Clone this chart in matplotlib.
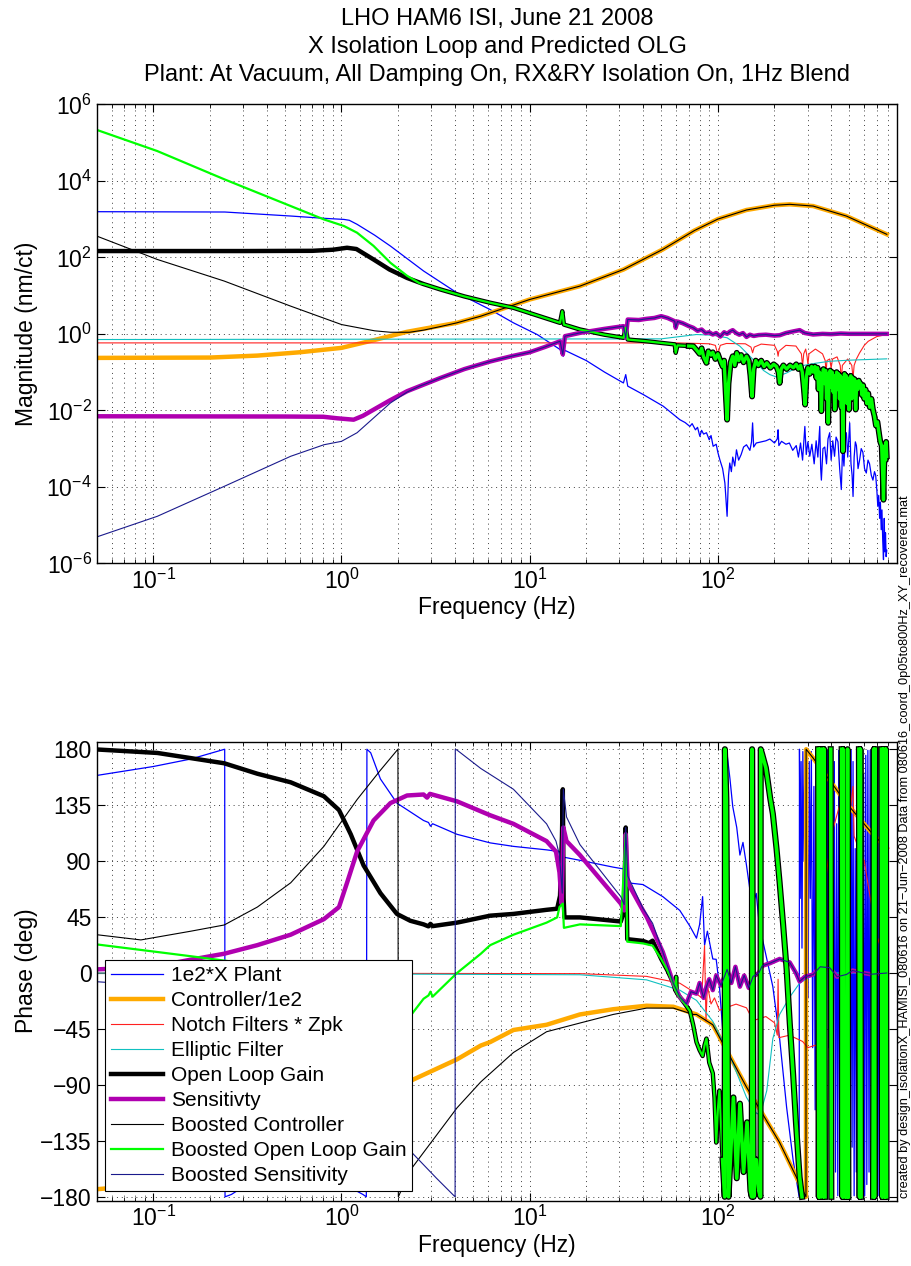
import numpy as np
import matplotlib
matplotlib.use('Agg')
import matplotlib.pyplot as plt
from matplotlib.ticker import LogLocator, FixedLocator, NullFormatter, NullLocator

plt.rcParams['font.family'] = ['Liberation Sans', 'DejaVu Sans']
plt.rcParams['mathtext.fontset'] = 'custom'
plt.rcParams['mathtext.rm'] = 'Liberation Sans'
plt.rcParams['mathtext.it'] = 'Liberation Sans:italic'
plt.rcParams['mathtext.bf'] = 'Liberation Sans:bold'

nan = np.nan

# ---------------- magnitude data (Hz, nm/ct) ----------------
plant_mag = [
    (0.05, 1560), (0.24, 1530), (0.54, 1200), (0.8, 1050), (1.03, 980), (1.1, 930), (1.21, 730),
    (1.5, 380), (1.82, 197), (2.73, 44), (4.11, 11.8), (6.17, 4.3), (8.2, 1.94), (11, 0.95),
    (14.5, 0.39), (14.9, 0.3), (15.1, 0.26), (15.4, 0.37), (20, 0.2), (25, 0.1), (31.5, 0.052),
    (32.4, 0.086), (33.2, 0.043), (40.2, 0.0258), (51.3, 0.0128), (62.8, 0.0057), (67, 0.0048),
    (71, 0.0038), (73, 0.0045), (76, 0.0031), (78, 0.0036), (80.2, 0.0021), (82, 0.003),
    (84, 0.0024), (87, 0.0026), (90, 0.0017), (92, 0.0022), (94.4, 0.00115), (98, 0.0013),
    (100, 0.0008), (102.5, 5.1e-4), (106, 3e-4), (109, 1.26e-4), (112, 1.7e-5), (114, 2e-4),
    (115.7, 4.2e-4), (118, 2.5e-4), (120, 6e-4), (123, 3.5e-4), (125.6, 9.3e-4), (129, 5e-4),
    (133, 7e-4), (137, 1.1e-3), (142, 1.26e-3), (148, 9e-4), (151, 1.5e-3), (153, 4.7e-3),
    (155, 1.1e-3), (160, 1.4e-3), (170, 1.5e-3), (180, 1.6e-3), (189, 1.78e-3), (200, 1.4e-3),
    (207, 1.8e-3), (209, 3.1e-3), (211, 1.2e-3), (218, 1.55e-3), (230, 1.3e-3), (240, 1.4e-3),
    (250, 9e-4), (261, 1.2e-3), (268, 6e-4), (275, 1.4e-3), (282, 5e-4), (290, 3.8e-3),
    (295, 7e-4), (301, 1.5e-3), (308, 6.3e-4), (316, 1.3e-3), (325, 4e-4), (333, 1.6e-3),
    (340, 6e-4), (348, 3.8e-3), (352, 3e-4), (355, 1.5e-4), (362, 1e-3), (370, 1.1e-3),
    (378, 4e-4), (385, 1.8e-3), (393, 2.6e-3), (400, 5e-4), (408, 1.6e-3), (417, 6.3e-4),
    (425, 2e-3), (435, 1.5e-3), (444, 3e-4), (453, 8.5e-5), (460, 1e-3), (468, 3.5e-4),
    (475, 1.8e-3), (482, 2.6e-3), (490, 6e-4), (502, 4.7e-3), (510, 4e-4), (517, 2e-4),
    (523, 5.6e-5), (530, 6e-4), (538, 1.5e-3), (545, 1.2e-3), (556, 3e-4), (567, 5.1e-4),
    (578, 1e-3), (590, 8e-4), (602, 3e-4), (615, 2.3e-4), (628, 5e-4), (640, 4e-4), (654, 2e-4),
    (667, 1.5e-4), (680, 2.5e-4), (690, 2e-4), (700, 8e-5), (708, 3.1e-5), (716, 6e-5),
    (724, 1.5e-5), (731, 4e-5), (738, 7.6e-6), (745, 2.5e-5), (752, 4e-6), (759, 1.25e-6),
    (766, 1.5e-5), (772, 2e-6), (778, 6.3e-6), (784, 1.5e-6), (790, 2.2e-6),
]

ctrl_mag = [
    (0.05, 0.235), (0.2, 0.24), (0.357, 0.27), (0.6, 0.33), (1.0, 0.43), (1.48, 0.68),
    (2.23, 1.13), (3.3, 1.6), (4.1, 1.94), (5.5, 2.9), (10, 7.9), (18.5, 17.7), (31.5, 48),
    (51, 161), (75, 500), (100, 1000), (142, 1730), (200, 2300), (241, 2430), (321, 2190),
    (482, 1200), (790, 400),
]

notch_mag = [
    (0.05, 0.58), (60, 0.58), (74, 0.565), (90, 0.55), (97, 0.5), (100, 0.29), (103, 0.5),
    (111, 0.56), (140, 0.55), (150, 0.45), (153, 0.32), (156, 0.45), (170, 0.54), (200, 0.5),
    (207, 0.35), (209, 0.26), (211, 0.35), (230, 0.5), (260, 0.48), (278, 0.3), (282, 0.143),
    (286, 0.3), (293, 0.4), (298, 0.25), (301, 0.157), (305, 0.3), (330, 0.4), (360, 0.3),
    (372, 0.2), (376, 0.095), (380, 0.2), (393, 0.22), (400, 0.128), (407, 0.22), (430, 0.25),
    (447, 0.15), (453, 0.064), (459, 0.15), (490, 0.22), (515, 0.15), (523, 0.07), (530, 0.15),
    (545, 0.22), (567, 0.32), (600, 0.5), (630, 0.64), (700, 0.85), (790, 0.96),
]

ellip_mag = [
    (0.05, 0.71), (50, 0.74), (77, 0.96), (94, 0.92), (112, 0.79), (131, 0.475), (154, 0.213),
    (175, 0.11), (189, 0.086), (204, 0.075), (232, 0.095), (272, 0.143), (330, 0.17),
    (393, 0.192), (500, 0.205), (790, 0.222),
]

olg_mag = [
    (0.05, 146), (0.3, 146), (0.7, 148), (0.9, 158), (1.07, 178), (1.2, 165), (1.48, 88),
    (1.8, 48), (2.23, 29), (2.73, 20), (3.35, 14.5), (4.5, 9.5), (6.17, 6.5), (8.2, 4.8),
    (11, 3), (14.5, 1.94), (14.9, 3.9), (15.2, 1.75), (18.5, 1.3), (25, 0.95), (31.5, 0.79),
    (32.4, 1.44), (33.2, 0.71), (41.8, 0.64), (50, 0.58), (59, 0.53), (59.7, 0.32), (61, 0.5),
    (70, 0.48), (74, 0.475), (77, 0.38), (80, 0.3), (82, 0.42), (84, 0.25), (87, 0.174),
    (89, 0.35), (92, 0.28), (94, 0.33), (97, 0.22), (100, 0.3), (103, 0.2), (106, 0.14),
    (108, 0.2), (110, 0.03), (112, 0.0057), (114, 0.05), (117, 0.18), (120, 0.26), (123, 0.15),
    (126, 0.32), (129, 0.2), (133, 0.28), (137, 0.18), (142, 0.26), (146, 0.2), (149, 0.08),
    (152, 0.023), (155, 0.12), (159, 0.2), (164, 0.15), (170, 0.2), (176, 0.14), (182, 0.174),
    (190, 0.13), (198, 0.16), (205, 0.14), (210, 0.1), (213, 0.052), (217, 0.12), (223, 0.15),
    (232, 0.12), (242, 0.15), (252, 0.13), (261, 0.16), (268, 0.12), (275, 0.15), (281, 0.1),
    (286, 0.04), (291, 0.0141), (296, 0.08), (301, 0.13), (308, 0.09), (315, 0.14), (321, 0.1),
    (328, 0.14), (334, 0.07), (339, 0.13), (343, 0.035), (347, 0.1), (351, 0.06), (355, 0.0095),
    (359, 0.07), (364, 0.12), (369, 0.05), (374, 0.11), (378, 0.02), (382, 0.09), (386, 0.0047),
    (390, 0.06), (395, 0.11), (400, 0.04), (405, 0.1), (410, 0.03), (414, 0.08), (418, 0.0105),
    (423, 0.06), (428, 0.1), (433, 0.035), (438, 0.09), (443, 0.02), (448, 0.08), (453, 0.012),
    (458, 0.07), (462, 0.00085), (466, 0.05), (471, 0.09), (476, 0.025), (481, 0.08),
    (486, 0.015), (491, 0.07), (497, 0.0104), (503, 0.06), (509, 0.08), (515, 0.02), (521, 0.07),
    (527, 0.03), (533, 0.065), (540, 0.0105), (547, 0.055), (554, 0.035), (561, 0.06),
    (568, 0.04), (575, 0.05), (583, 0.025), (592, 0.045), (600, 0.02), (610, 0.035),
    (620, 0.015), (630, 0.028), (642, 0.012), (655, 0.02), (667, 0.0105), (680, 0.007),
    (692, 0.004), (705, 0.005), (718, 0.0026), (730, 0.0015), (742, 0.0012), (752, 2e-4),
    (759, 4.6e-5), (765, 3e-4), (772, 1.2e-3), (778, 5e-4), (784, 1.5e-3), (790, 6.3e-4),
]

sens_mag = [
    (0.05, 0.007), (0.5, 0.0069), (0.8, 0.0068), (0.95, 0.0062), (1.16, 0.0057), (1.3, 0.0072),
    (1.48, 0.0104), (1.8, 0.018), (2.23, 0.0316), (2.73, 0.047), (3.35, 0.07), (4.5, 0.12),
    (6.17, 0.19), (8, 0.26), (10, 0.33), (12, 0.45), (14.5, 0.64), (15.0, 0.29), (15.4, 0.87),
    (18.5, 1.06), (25, 1.35), (31.5, 1.59), (32.4, 0.79), (33.2, 2.37), (38, 2.3), (41.8, 2.47),
    (46, 2.6), (50, 2.9), (54, 2.6), (59, 2.14), (59.7, 1.44), (61, 2.1), (65, 1.9), (70, 1.6),
    (74, 1.44), (78, 1.2), (82, 1.3), (86, 1.05), (90, 1.1), (94, 0.96), (98, 1.05), (103, 0.85),
    (108, 1.1), (112, 1.0), (116, 1.15), (120, 1.25), (125, 1.05), (130, 0.95), (136, 1.05),
    (142, 0.83), (148, 0.95), (155, 0.88), (165, 0.93), (180, 0.95), (200, 0.9), (213, 0.92),
    (230, 1.05), (250, 1.15), (272, 1.25), (290, 1.05), (321, 0.96), (360, 1.0), (400, 0.98),
    (450, 1.02), (500, 1.0), (600, 1.0), (790, 1.0),
]

bctrl_mag_low = [
    (0.05, 360), (0.105, 88), (0.238, 24), (0.537, 5.3), (1.0, 1.75), (1.5, 1.2), (1.82, 1.1),
    (2.3, 1.1), (2.73, 1.25), (3.35, 1.55),
]
bolg_mag_low = [
    (0.05, 2.15e5), (0.105, 6.0e4), (0.238, 1.1e4), (0.537, 2200), (0.806, 980), (1.03, 660),
    (1.21, 440), (1.48, 199), (1.82, 72), (2.23, 33), (2.6, 21),
]
bsens_mag_low = [
    (0.05, 4.9e-6), (0.105, 1.7e-5), (0.238, 1.03e-4), (0.537, 6.3e-4), (0.806, 1.26e-3),
    (1.0, 1.55e-3), (1.21, 2.6e-3), (1.48, 6.3e-3), (1.82, 0.0156), (2.23, 0.03), (2.6, 0.043),
]

# ---------------- phase data (Hz, deg) ----------------
plant_ph = [
    (0.05, 158.8), (0.1, 166), (0.158, 172), (0.2395, 179.9), (0.2405, -179.9), (0.26, -178),
    (0.3, -172), (0.5, -166), (0.8, -167), (1.1, -172), (1.3, -178), (1.355, -179.9),
    (1.365, 179.9), (1.43, 177), (1.61, 156),
    (1.97, 136.6), (2.73, 122.6), (2.9, 121), (2.97, 118), (3.05, 120), (4.11, 111.5),
    (6.17, 104.6), (8.2, 101.8), (12.3, 99), (14.4, 97.6), (15.0, 92), (15.3, 93), (18.5, 90.6),
    (27.8, 85.1), (31.5, 83.7), (32.4, 117), (33.2, 72.5), (40, 71.1), (51, 61.4), (62.8, 50.3),
    (71, 37.7), (77, 28), (80, 39), (83, 61.4), (85, 22.4), (88, 33.6), (94, 11.3), (98, 11),
    (102, -11), (107, -52.7), (109, -94.5), (110.8, -179.9), (111.2, 179.9), (116, 156),
    (120, 133.8), (126, 117), (131, 94.8), (136, 105), (142, 86.5), (148, 67), (154, 55.8),
    (160, 64), (166, 39), (182, 11.3), (196, -11), (213, -52.7), (232, -108), (251, -150),
    (270.5, -179.9), (271.5, 179.9), (274, 60), (277, 170), (280, 20), (283, 178), (287, 90),
    (290, 175), (294, 30), (298, 160), (302, -20), (306, 170), (310, 60), (314, 178),
    (319, -60), (324, 150), (329, -110), (334, 178), (339, -20), (344, 170), (349, -150),
    (354, 100), (358, -175), (362, 179), (367, -90), (372, 160), (377, -120), (382, 179),
    (388, -60), (394, 150), (400, -179), (404, 179), (410, -100), (416, 170), (422, -160),
    (428, 120), (434, -179), (439, 179), (444, -120), (449, 175), (454, -179), (459, 170),
    (464, -150), (469, 179), (474, -179), (479, 160), (484, -100), (489, 179), (494, -170),
    (499, 140), (505, -179), (511, 179), (517, -140), (523, 170), (530, -179), (537, 100),
    (544, -160), (551, 179), (558, -120), (565, 170), (572, -179), (579, 179), (587, -150),
    (595, 160), (603, -179), (611, 175), (619, -170), (627, 179), (636, -160), (645, 179),
    (654, -179), (663, 170), (672, -150), (681, 179), (690, -179), (700, 160), (710, -179),
    (720, 179), (730, -170), (740, 179), (750, -179), (760, 175), (770, -179), (780, 179),
    (790, 150),
]

ctrl_ph = [
    (0.05, -173.8), (0.1, -170), (0.3, -158), (0.6, -140), (1.0, -120), (1.6, -100),
    (2.37, -86.1), (4.11, -69.4), (5.5, -58.3), (6.17, -55.5), (8.2, -45.8), (12.3, -41.6),
    (18.5, -33.3), (27.8, -29.1), (41.8, -26.3), (58, -27.1), (77, -33.3), (94, -41.6),
    (142, -91.7), (213, -136.3), (294, -179.9), (294.5, 179.9), (321, 172.8), (482, 136.6),
    (667, 111.5), (790, 100.4),
]

notch_ph = [
    (0.05, 0), (18.5, -0.5), (41.8, -2.7), (62.8, -8.2), (77, -16.6), (82, -20), (85, 22),
    (86.5, -38.8), (88, -10), (92, -24.9), (96, -20), (102, -30), (110, -28), (125, -25),
    (142, -28), (150, -35), (153, -5), (156, -38), (180, -35), (200, -40), (207, -50),
    (209, -5), (211, -52), (240, -50), (282, -55), (301, -60), (330, -58), (376, -70),
    (378, 80), (400, 110), (453, 140), (482, 160), (500, 125), (523, 150), (530, 110),
    (560, 100), (600, 90), (630, 70), (700, 30), (790, 5),
]

ellip_ph = [
    (0.05, 0), (18.5, -1.4), (41.8, -5.5), (62.8, -13.8), (77, -22), (94, -38.8), (116, -66.7),
    (142, -100), (160, -112.6), (168, -114), (182, -94.5), (196, -52.7), (213, -33.3),
    (241, -19.3), (272, -8.2), (321, -1.4), (393, 0), (790, 0),
]

olg_ph = [
    (0.05, 179.7), (0.105, 176.9), (0.158, 172.8), (0.238, 168.6), (0.357, 160.2),
    (0.537, 153.3), (0.806, 142.1), (0.97, 131), (1.12, 111.5), (1.31, 86.5), (1.61, 64.2),
    (1.97, 47.5), (2.32, 42), (2.73, 39.1), (2.9, 37.5), (2.97, 39.5), (3.05, 37.7),
    (4.11, 40.5), (6.17, 46.1), (8.2, 47.5), (12.3, 50.8), (14, 51.7), (14.5, 62), (14.85, 110),
    (15.0, 147.7), (15.15, 60), (15.3, 44.7), (18.5, 44.7), (30.5, 41.4), (31.8, 50),
    (32.4, 117), (33.0, 27.2), (40, 25.8), (43, 24), (45, 26), (50, 11.3), (54, 2), (58, -8.2),
    (59.5, -14), (60, -3), (60.5, -16), (62.8, -19.3), (67, -25), (71, -30.5), (74, -42),
    (77, -55.5), (80, -62), (83, -66.7), (85, -58), (87, -52.7), (90, -72), (94, -80.6),
    (96, -100), (98, -136.3), (100, -110), (102, -94.5), (106, -150), (108.8, -179.9),
    (109, 179.9), (111, 140), (114, -179.9), (121, -100), (126, -165), (131, -105),
    (137, -160), (143, -120), (149, -175), (151.5, -179.9), (152, 179.9), (155, -179.9),
    (160, -150), (165, -175), (168.5, -179.9), (169, 179.9), (172, 176), (180, 165),
    (190, 140), (196, 128), (205, 100), (213, 72.5), (222, 40), (232, 3), (241, -40),
    (251, -80.6), (260, -120), (272, -164), (280, -179.9), (nan, nan),
    (341, 179.9), (344, -179.9), (347, 179.9), (350, -179.9), (nan, nan),
    (359, 179.9), (363, -179.9), (367, 179.9), (371, -179.9), (nan, nan),
    (398, 179.9), (401, -179.9), (nan, nan),
    (455, 179.9), (459, -179.9), (463, 179.9), (467, -179.9), (nan, nan),
    (484, -179.9), (489, 179.9), (494, -179.9), (nan, nan),
    (562, 179.9), (567, -179.9), (572, 179.9), (577, -179.9), (nan, nan),
    (668, -179.9), (674, 179.9), (680, -179.9), (686, 179.9), (nan, nan),
    (740, 179.9), (746, -179.9), (752, 179.9), (758, -179.9), (nan, nan),
    (770, 179.9), (776, -179.9), (782, 179.9), (788, -179.9),
]

sens_ph = [
    (0.05, 2.9), (0.1, 5), (0.158, 10.7), (0.238, 15.5), (0.357, 22.4), (0.537, 30.8),
    (0.806, 43.3), (0.97, 53), (1.07, 72.5), (1.21, 97.6), (1.48, 122.6), (1.82, 136.6),
    (2.23, 142.7), (2.73, 143.5), (2.85, 141), (2.95, 144), (4.11, 138), (6.17, 126.8),
    (8.2, 119.9), (12.3, 106), (13.8, 97.6), (14.4, 80.9), (14.8, 55.8), (15.1, 117),
    (15.7, 106), (18.5, 94.8), (30.5, 55.8), (31.8, 50.3), (32.4, 111.5), (33.2, 72.5),
    (40, 50.3), (42, 44.7), (51, 16.9), (58, -8.2), (62.8, -19.3), (68, -24.9), (72, -15),
    (77, -16.6), (80, -8), (84, -20), (87, -11), (90, -5), (94, -13.8), (98, -2), (104, -10),
    (112, 2.9), (118, -8), (124, 5), (131, -11), (138, -2), (146, -12), (154, -2.7), (165, 0),
    (172, 5.7), (190, 8), (213, 11.3), (241, 8.5), (260, 0), (272, -6.8), (290, -3),
    (321, -1.2), (350, 5), (393, 4.3), (430, -3), (482, -1.2), (520, 2), (590, 0.1),
    (650, -1), (790, 0),
]

bctrl_ph_low = [
    (0.05, 30.8), (0.0859, 26.6), (0.158, 33.6), (0.238, 38.6), (0.357, 53), (0.537, 72.5),
    (0.806, 101.8), (1.21, 139.4), (1.61, 163), (1.995, 179.9), (2.005, -179.9),
    (2.32, -158.5), (4.11, -108.4), (5.5, -87.5), (8.2, -63.9), (12.3, -47.2), (18.5, -40.2),
    (27.8, -33.3), (41.8, -28.2), (58, -28.2), (74, -33.3),
]
bolg_ph_low = [
    (0.05, 23), (0.105, 16.9), (0.158, 13.5), (0.3, 8), (0.6, 0), (1.0, -10), (1.5, -25),
    (2.0, -33), (2.32, -34.6), (2.73, -20.7), (2.9, -18), (2.97, -15), (3.05, -19), (4.11, 0),
    (5.5, 15.5), (6.17, 22.4), (8.2, 30.8), (12.3, 40.5), (14, 44.7), (14.4, 53), (15.0, 55.8),
    (15.2, 36.3), (18.5, 39.1), (30.5, 37.7), (32.4, 111.5), (33.0, 25.2), (40, 23.8),
    (45, 22),
]
bsens_ph_low = [
    (0.05, -7), (0.1, -10), (0.3, -25), (0.6, -45), (1.0, -70), (1.5, -105), (2.32, -143),
    (3.2, -165), (4.015, -179.9), (4.025, 179.9), (4.11, 179.2), (5.5, 164.4), (8.2, 147.7),
    (12.3, 119.9), (13.8, 106), (14.4, 94.8), (14.9, 64.2), (15.1, 147.7), (15.7, 125.4),
    (18.5, 103.2), (30.5, 61.4), (31.8, 55), (32.4, 117), (33.2, 78), (40, 52), (45, 40),
]

labels = ['1e2*X Plant', 'Controller/1e2', 'Notch Filters * Zpk', 'Elliptic Filter',
          'Open Loop Gain', 'Sensitivty', 'Boosted Controller', 'Boosted Open Loop Gain',
          'Boosted Sensitivity']


def xy(pairs):
    a = np.array(pairs, dtype=float)
    return a[:, 0], a[:, 1]


def join(low, full):
    # low-frequency part of a boosted curve, then the shared curve above it
    last = low[-1][0]
    return low + [p for p in full if not (p[0] <= last)]


mag_sets = [plant_mag, ctrl_mag, notch_mag, ellip_mag, olg_mag, sens_mag,
            join(bctrl_mag_low, ctrl_mag), join(bolg_mag_low, olg_mag),
            join(bsens_mag_low, sens_mag)]
ph_sets = [plant_ph, ctrl_ph, notch_ph, ellip_ph, olg_ph, sens_ph,
           join(bctrl_ph_low, ctrl_ph), join(bolg_ph_low, olg_ph),
           join(bsens_ph_low, sens_ph)]

colors = ['#0000ff', '#ffaa00', '#ff2020', '#10c0c0', '#000000', '#b000b0',
          '#000000', '#00ff00', '#1a1a8c']
widths = [0.9, 3.2, 0.8, 0.8, 3.2, 3.2, 0.8, 1.6, 0.8]


def main():
    fig = plt.figure(figsize=(9.12, 12.66), dpi=100)
    ax1 = fig.add_axes([0.106, 0.555, 0.878, 0.3626])
    ax2 = fig.add_axes([0.106, 0.0516, 0.878, 0.3626])

    for i in range(9):
        f, m = xy(mag_sets[i])
        ax1.loglog(f, m, color=colors[i], lw=widths[i], label=labels[i])
        if i == 7:
            # noisy high frequency band: green with black edges
            hi = f >= 70
            ax1.loglog(f[hi], m[hi], color='k', lw=4.2)
            ax1.loglog(f[hi], m[hi], color=colors[i], lw=2.4)

    lines = []
    for i in range(9):
        f, p = xy(ph_sets[i])
        ln, = ax2.semilogx(f, p, color=colors[i], lw=widths[i], label=labels[i])
        lines.append(ln)
        if i == 7:
            hi = np.isnan(f) | (f >= 104)
            ax2.semilogx(f[hi], p[hi], color='k', lw=4.4)
            ax2.semilogx(f[hi], p[hi], color=colors[i], lw=2.6)

    for ax in (ax1, ax2):
        ax.set_xlim(0.05, 900)
        ax.xaxis.set_major_locator(LogLocator(base=10))
        ax.xaxis.set_minor_locator(LogLocator(base=10, subs=np.arange(2, 10)))
        ax.xaxis.set_minor_formatter(NullFormatter())
        ax.tick_params(which='both', direction='in', top=True, right=True, labelsize=16.5)
        ax.tick_params(which='major', length=6, width=0.8)
        ax.tick_params(which='minor', length=3, width=0.6)
        ax.grid(True, which='major', ls=(0, (1, 4)), color='0.25', lw=0.7)
        ax.grid(True, which='minor', axis='x', ls=(0, (1, 4)), color='0.25', lw=0.7)
        for s in ax.spines.values():
            s.set_linewidth(1.0)
        ax.set_xlabel('Frequency (Hz)', fontsize=16.5, labelpad=2)

    ax1.set_ylim(1e-6, 1e6)
    ax1.yaxis.set_major_locator(FixedLocator([1e-6, 1e-4, 1e-2, 1e0, 1e2, 1e4, 1e6]))
    ax1.yaxis.set_minor_locator(NullLocator())
    ax1.set_ylabel('Magnitude (nm/ct)', fontsize=16.5)
    ax1.yaxis.set_label_coords(-0.073, 0.5)
    ax1.set_title('LHO HAM6 ISI, June 21 2008\nX Isolation Loop and Predicted OLG\n'
                  'Plant: At Vacuum, All Damping On, RX&RY Isolation On, 1Hz Blend',
                  fontsize=17, linespacing=1.34, pad=17)

    ax2.set_ylim(-183, 186)
    ax2.set_yticks(np.arange(-180, 181, 45))
    ax2.set_ylabel('Phase (deg)', fontsize=16.5)
    ax2.yaxis.set_label_coords(-0.073, 0.5)

    leg = ax2.legend(lines, labels, loc='lower left', bbox_to_anchor=(0.0104, 0.02),
                     fontsize=15, handlelength=2.5, handletextpad=0.35, labelspacing=0.29,
                     borderpad=0.3, borderaxespad=0, fancybox=False, framealpha=1)
    leg.get_frame().set_edgecolor('k')
    leg.get_frame().set_linewidth(0.8)

    fig.text(0.992, 0.054,
             'created by design_isolationX_HAMISI_080616 on 21\u2212Jun\u22122008 '
             'Data from 080616_coord_0p05to800Hz_XY_recovered.mat',
             rotation=90, ha='center', va='bottom', fontsize=9.2)

    fig.savefig('out.png', dpi=100)


if __name__ == '__main__':
    main()
